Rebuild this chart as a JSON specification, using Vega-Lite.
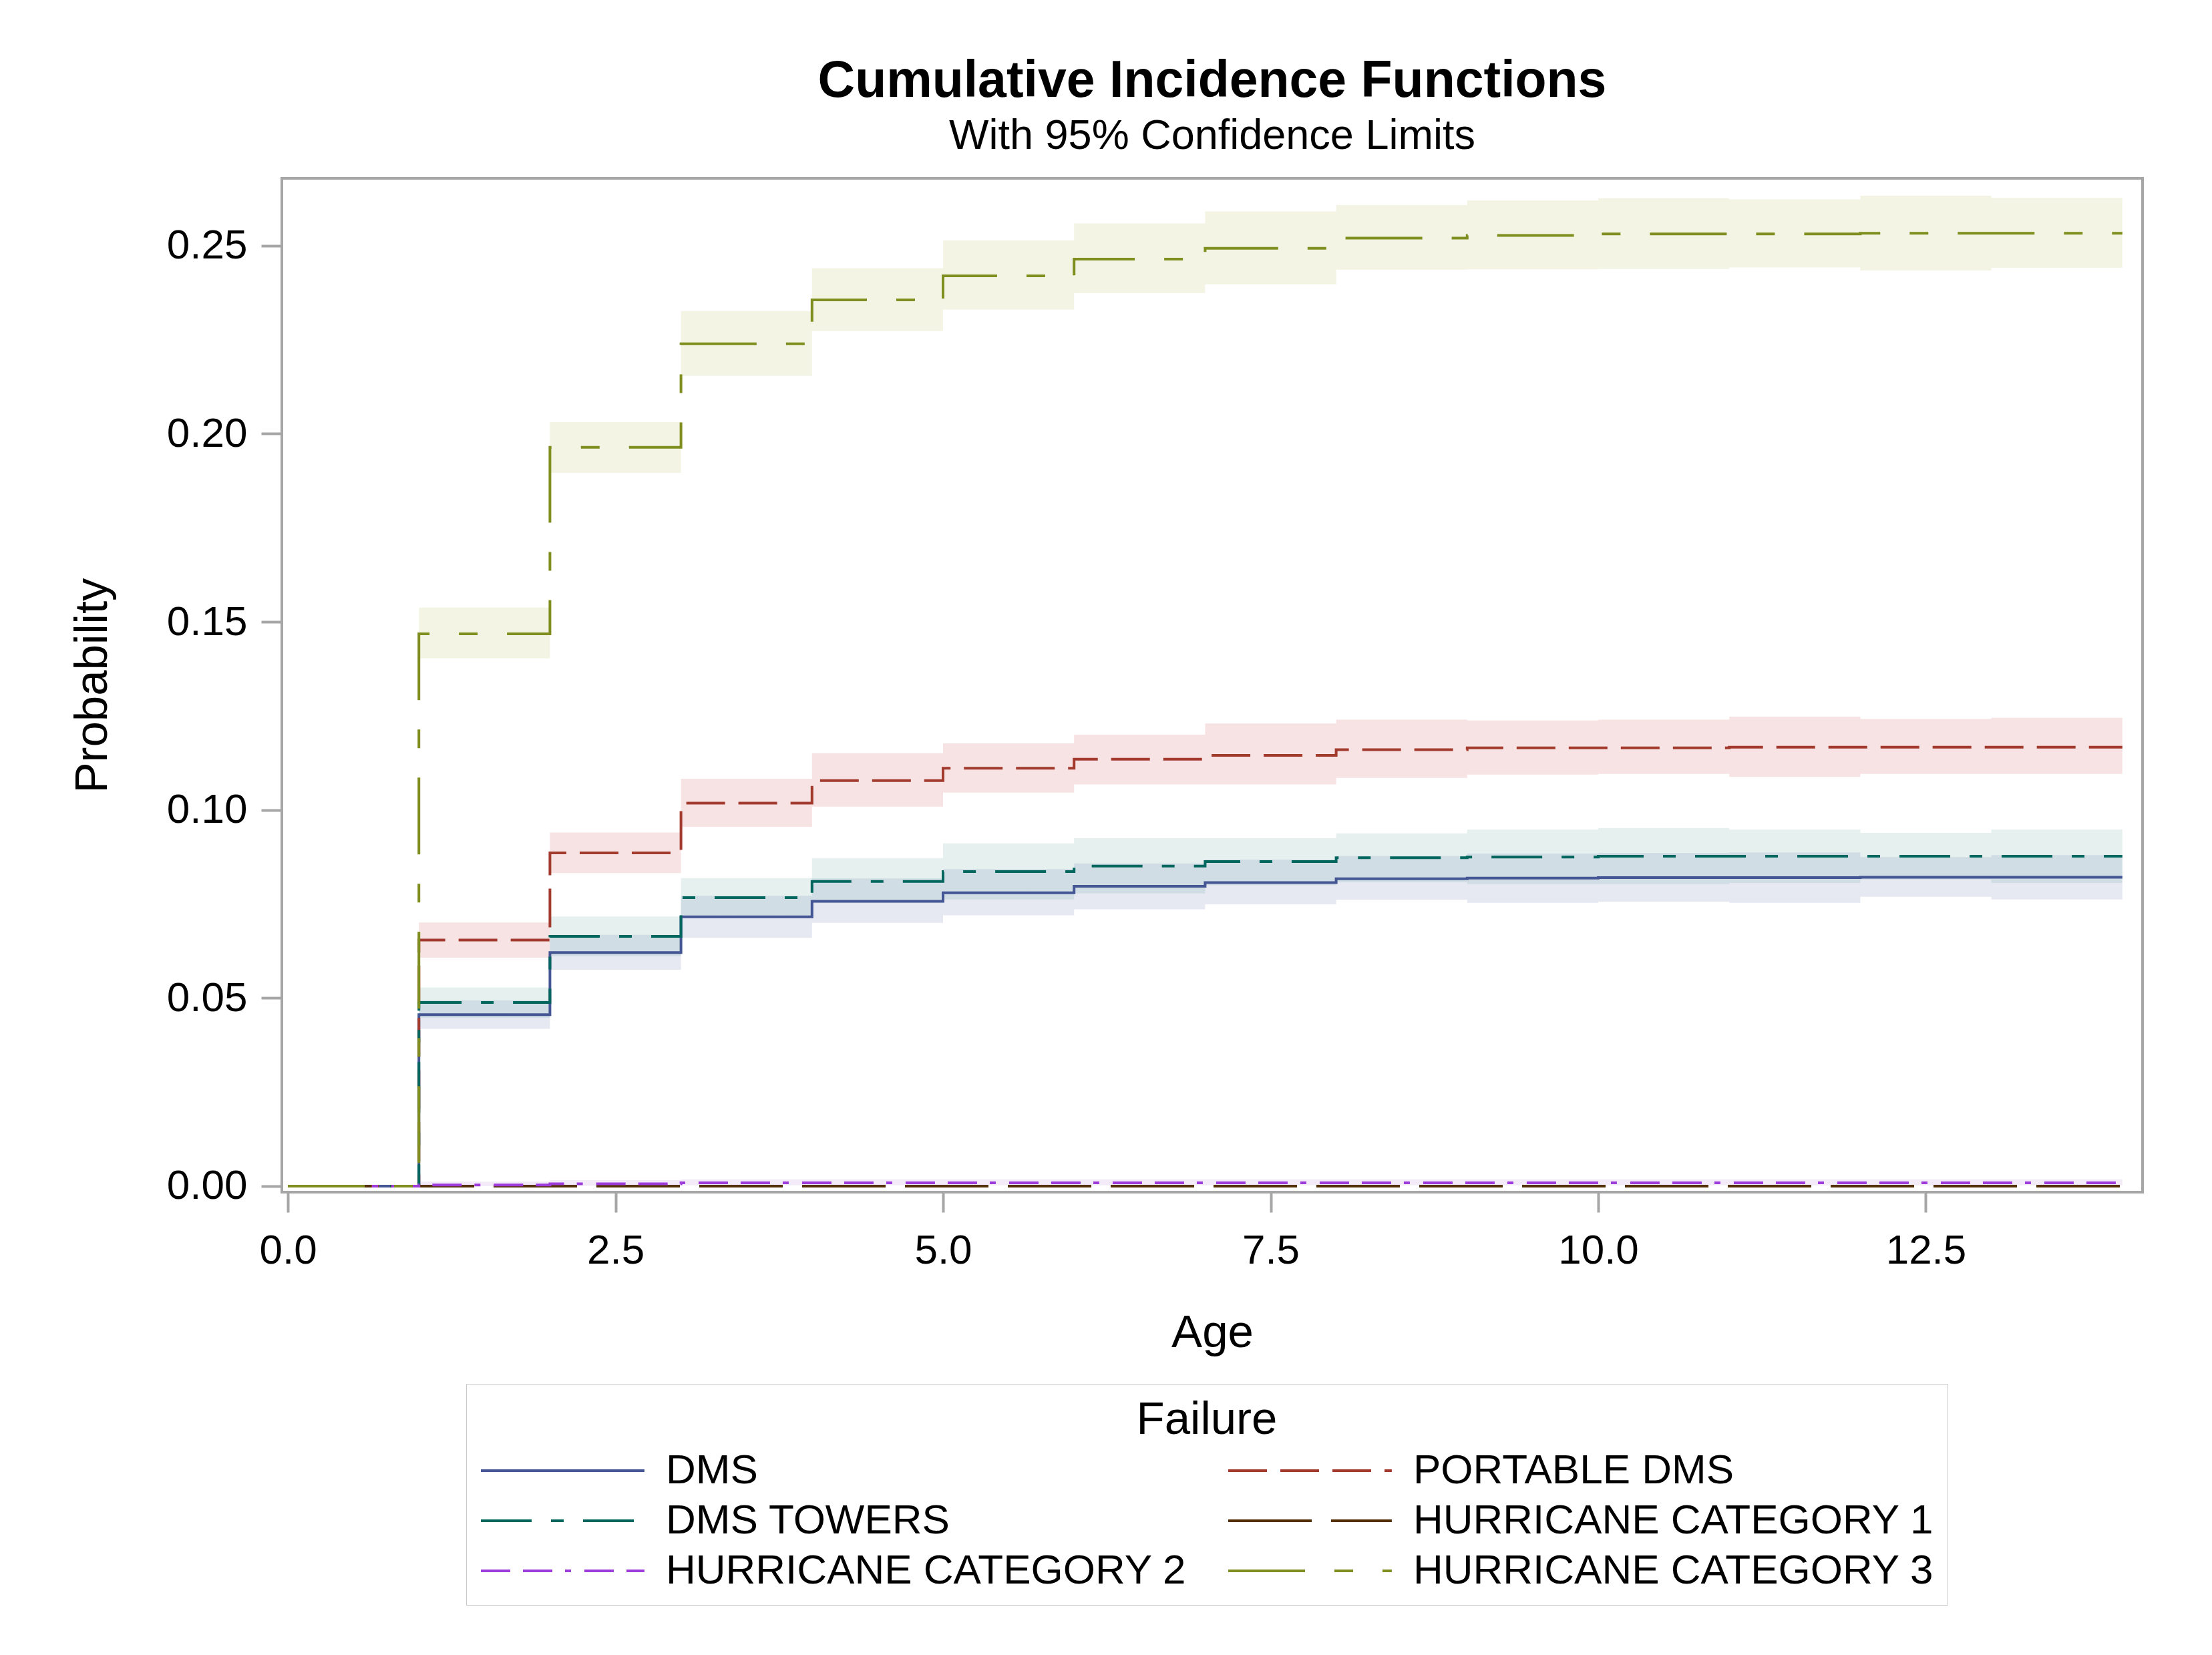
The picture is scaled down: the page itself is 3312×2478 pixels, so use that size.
{
  "$schema": "https://vega.github.io/schema/vega-lite/v6.json",
  "autosize": {"type": "none"},
  "padding": {"left": 422, "top": 267, "right": 104, "bottom": 693},
  "width": 2786,
  "height": 1518,
  "background": "white",
  "title": {
    "text": "Cumulative Incidence Functions",
    "subtitle": "With 95% Confidence Limits",
    "font": "Liberation Sans",
    "subtitleFont": "Liberation Sans",
    "fontSize": 77,
    "fontWeight": "bold",
    "subtitleFontSize": 63,
    "color": "black",
    "subtitleColor": "black",
    "anchor": "middle",
    "frame": "group",
    "offset": 30,
    "subtitlePadding": 12
  },
  "config": {
    "font": "Liberation Sans",
    "view": {"stroke": "#a6a6a6", "strokeWidth": 4},
    "axis": {
      "labelFont": "Liberation Sans",
      "labelFontSize": 62,
      "labelColor": "black",
      "titleFont": "Liberation Sans",
      "titleFontSize": 69,
      "titleFontWeight": "normal",
      "titleColor": "black",
      "tickColor": "#a6a6a6",
      "tickWidth": 4,
      "domain": false,
      "grid": false
    },
    "legend": {
      "symbolType": "M-1,0L6.9,0",
      "symbolSize": 3844,
      "symbolStrokeWidth": 4,
      "labelFont": "Liberation Sans",
      "labelFontSize": 62,
      "labelColor": "black",
      "labelLimit": 2000,
      "labelOffset": 213,
      "titleFont": "Liberation Sans",
      "titleFontSize": 69,
      "titleFontWeight": "normal",
      "titleColor": "black",
      "titleLimit": 2000,
      "titleAnchor": "middle",
      "titlePadding": 8,
      "columnPadding": 54,
      "rowPadding": 11,
      "padding": 20,
      "strokeColor": "#c8c8c8",
      "fillColor": "white"
    }
  },
  "data": {
    "values": [
      {"s": "DMS", "t": 0, "p": 0, "lo": 0, "hi": 0},
      {"s": "DMS", "t": 1, "p": 0.0456, "lo": 0.0418, "hi": 0.0494},
      {"s": "DMS", "t": 2, "p": 0.0621, "lo": 0.0575, "hi": 0.0668},
      {"s": "DMS", "t": 3, "p": 0.0716, "lo": 0.0660, "hi": 0.0772},
      {"s": "DMS", "t": 4, "p": 0.0757, "lo": 0.0700, "hi": 0.0818},
      {"s": "DMS", "t": 5, "p": 0.0780, "lo": 0.0720, "hi": 0.0843},
      {"s": "DMS", "t": 6, "p": 0.0797, "lo": 0.0736, "hi": 0.0858},
      {"s": "DMS", "t": 7, "p": 0.0807, "lo": 0.0749, "hi": 0.0868},
      {"s": "DMS", "t": 8, "p": 0.0817, "lo": 0.0761, "hi": 0.0878},
      {"s": "DMS", "t": 9, "p": 0.0819, "lo": 0.0753, "hi": 0.0884},
      {"s": "DMS", "t": 10, "p": 0.0820, "lo": 0.0756, "hi": 0.0886},
      {"s": "DMS", "t": 11, "p": 0.0820, "lo": 0.0753, "hi": 0.0887},
      {"s": "DMS", "t": 12, "p": 0.0821, "lo": 0.0769, "hi": 0.0875},
      {"s": "DMS", "t": 13, "p": 0.0821, "lo": 0.0762, "hi": 0.0880},
      {"s": "DMS", "t": 14, "p": 0.0821, "lo": 0.0762, "hi": 0.0880},
      {"s": "PORTABLE DMS", "t": 0, "p": 0, "lo": 0, "hi": 0},
      {"s": "PORTABLE DMS", "t": 1, "p": 0.0654, "lo": 0.0607, "hi": 0.0701},
      {"s": "PORTABLE DMS", "t": 2, "p": 0.0886, "lo": 0.0832, "hi": 0.0940},
      {"s": "PORTABLE DMS", "t": 3, "p": 0.1018, "lo": 0.0955, "hi": 0.1083},
      {"s": "PORTABLE DMS", "t": 4, "p": 0.1078, "lo": 0.1009, "hi": 0.1151},
      {"s": "PORTABLE DMS", "t": 5, "p": 0.1111, "lo": 0.1046, "hi": 0.1177},
      {"s": "PORTABLE DMS", "t": 6, "p": 0.1135, "lo": 0.1068, "hi": 0.1200},
      {"s": "PORTABLE DMS", "t": 7, "p": 0.1145, "lo": 0.1068, "hi": 0.1230},
      {"s": "PORTABLE DMS", "t": 8, "p": 0.1160, "lo": 0.1085, "hi": 0.1240},
      {"s": "PORTABLE DMS", "t": 9, "p": 0.1165, "lo": 0.1094, "hi": 0.1238},
      {"s": "PORTABLE DMS", "t": 10, "p": 0.1165, "lo": 0.1096, "hi": 0.1240},
      {"s": "PORTABLE DMS", "t": 11, "p": 0.1167, "lo": 0.1088, "hi": 0.1248},
      {"s": "PORTABLE DMS", "t": 12, "p": 0.1167, "lo": 0.1096, "hi": 0.1242},
      {"s": "PORTABLE DMS", "t": 13, "p": 0.1167, "lo": 0.1096, "hi": 0.1245},
      {"s": "PORTABLE DMS", "t": 14, "p": 0.1167, "lo": 0.1096, "hi": 0.1245},
      {"s": "DMS TOWERS", "t": 0, "p": 0, "lo": 0, "hi": 0},
      {"s": "DMS TOWERS", "t": 1, "p": 0.0488, "lo": 0.0448, "hi": 0.0528},
      {"s": "DMS TOWERS", "t": 2, "p": 0.0664, "lo": 0.0611, "hi": 0.0717},
      {"s": "DMS TOWERS", "t": 3, "p": 0.0767, "lo": 0.0715, "hi": 0.0819},
      {"s": "DMS TOWERS", "t": 4, "p": 0.0810, "lo": 0.0752, "hi": 0.0872},
      {"s": "DMS TOWERS", "t": 5, "p": 0.0836, "lo": 0.0762, "hi": 0.0911},
      {"s": "DMS TOWERS", "t": 6, "p": 0.0851, "lo": 0.0778, "hi": 0.0925},
      {"s": "DMS TOWERS", "t": 7, "p": 0.0863, "lo": 0.0800, "hi": 0.0925},
      {"s": "DMS TOWERS", "t": 8, "p": 0.0873, "lo": 0.0808, "hi": 0.0938},
      {"s": "DMS TOWERS", "t": 9, "p": 0.0875, "lo": 0.0803, "hi": 0.0948},
      {"s": "DMS TOWERS", "t": 10, "p": 0.0877, "lo": 0.0803, "hi": 0.0952},
      {"s": "DMS TOWERS", "t": 11, "p": 0.0877, "lo": 0.0806, "hi": 0.0948},
      {"s": "DMS TOWERS", "t": 12, "p": 0.0877, "lo": 0.0815, "hi": 0.0939},
      {"s": "DMS TOWERS", "t": 13, "p": 0.0877, "lo": 0.0806, "hi": 0.0948},
      {"s": "DMS TOWERS", "t": 14, "p": 0.0877, "lo": 0.0806, "hi": 0.0948},
      {"s": "HURRICANE CATEGORY 1", "t": 0, "p": 0, "lo": 0, "hi": 0},
      {"s": "HURRICANE CATEGORY 1", "t": 1, "p": 0, "lo": 0, "hi": 0},
      {"s": "HURRICANE CATEGORY 1", "t": 2, "p": 0, "lo": 0, "hi": 0},
      {"s": "HURRICANE CATEGORY 1", "t": 3, "p": 0, "lo": 0, "hi": 0},
      {"s": "HURRICANE CATEGORY 1", "t": 4, "p": 0, "lo": 0, "hi": 0},
      {"s": "HURRICANE CATEGORY 1", "t": 5, "p": 0, "lo": 0, "hi": 0},
      {"s": "HURRICANE CATEGORY 1", "t": 6, "p": 0, "lo": 0, "hi": 0},
      {"s": "HURRICANE CATEGORY 1", "t": 7, "p": 0, "lo": 0, "hi": 0},
      {"s": "HURRICANE CATEGORY 1", "t": 8, "p": 0, "lo": 0, "hi": 0},
      {"s": "HURRICANE CATEGORY 1", "t": 9, "p": 0, "lo": 0, "hi": 0},
      {"s": "HURRICANE CATEGORY 1", "t": 10, "p": 0, "lo": 0, "hi": 0},
      {"s": "HURRICANE CATEGORY 1", "t": 11, "p": 0, "lo": 0, "hi": 0},
      {"s": "HURRICANE CATEGORY 1", "t": 12, "p": 0, "lo": 0, "hi": 0},
      {"s": "HURRICANE CATEGORY 1", "t": 13, "p": 0, "lo": 0, "hi": 0},
      {"s": "HURRICANE CATEGORY 1", "t": 14, "p": 0, "lo": 0, "hi": 0},
      {"s": "HURRICANE CATEGORY 2", "t": 0, "p": 0, "lo": 0, "hi": 0},
      {"s": "HURRICANE CATEGORY 2", "t": 1, "p": 0.0003, "lo": 0, "hi": 0.0012},
      {"s": "HURRICANE CATEGORY 2", "t": 2, "p": 0.0006, "lo": 0.0001, "hi": 0.0016},
      {"s": "HURRICANE CATEGORY 2", "t": 3, "p": 0.0009, "lo": 0.0002, "hi": 0.0018},
      {"s": "HURRICANE CATEGORY 2", "t": 4, "p": 0.0009, "lo": 0.0002, "hi": 0.0018},
      {"s": "HURRICANE CATEGORY 2", "t": 5, "p": 0.0009, "lo": 0.0002, "hi": 0.0018},
      {"s": "HURRICANE CATEGORY 2", "t": 6, "p": 0.0009, "lo": 0.0002, "hi": 0.0018},
      {"s": "HURRICANE CATEGORY 2", "t": 7, "p": 0.0009, "lo": 0.0002, "hi": 0.0018},
      {"s": "HURRICANE CATEGORY 2", "t": 8, "p": 0.0009, "lo": 0.0002, "hi": 0.0018},
      {"s": "HURRICANE CATEGORY 2", "t": 9, "p": 0.0009, "lo": 0.0002, "hi": 0.0018},
      {"s": "HURRICANE CATEGORY 2", "t": 10, "p": 0.0009, "lo": 0.0002, "hi": 0.0018},
      {"s": "HURRICANE CATEGORY 2", "t": 11, "p": 0.0009, "lo": 0.0002, "hi": 0.0018},
      {"s": "HURRICANE CATEGORY 2", "t": 12, "p": 0.0009, "lo": 0.0002, "hi": 0.0018},
      {"s": "HURRICANE CATEGORY 2", "t": 13, "p": 0.0009, "lo": 0.0002, "hi": 0.0018},
      {"s": "HURRICANE CATEGORY 2", "t": 14, "p": 0.0009, "lo": 0.0002, "hi": 0.0018},
      {"s": "HURRICANE CATEGORY 3", "t": 0, "p": 0, "lo": 0, "hi": 0},
      {"s": "HURRICANE CATEGORY 3", "t": 1, "p": 0.1468, "lo": 0.1403, "hi": 0.1538},
      {"s": "HURRICANE CATEGORY 3", "t": 2, "p": 0.1964, "lo": 0.1896, "hi": 0.2031},
      {"s": "HURRICANE CATEGORY 3", "t": 3, "p": 0.2239, "lo": 0.2154, "hi": 0.2326},
      {"s": "HURRICANE CATEGORY 3", "t": 4, "p": 0.2356, "lo": 0.2273, "hi": 0.2440},
      {"s": "HURRICANE CATEGORY 3", "t": 5, "p": 0.2420, "lo": 0.2330, "hi": 0.2514},
      {"s": "HURRICANE CATEGORY 3", "t": 6, "p": 0.2464, "lo": 0.2374, "hi": 0.2559},
      {"s": "HURRICANE CATEGORY 3", "t": 7, "p": 0.2493, "lo": 0.2397, "hi": 0.2591},
      {"s": "HURRICANE CATEGORY 3", "t": 8, "p": 0.2520, "lo": 0.2436, "hi": 0.2608},
      {"s": "HURRICANE CATEGORY 3", "t": 9, "p": 0.2527, "lo": 0.2437, "hi": 0.2620},
      {"s": "HURRICANE CATEGORY 3", "t": 10, "p": 0.2531, "lo": 0.2438, "hi": 0.2626},
      {"s": "HURRICANE CATEGORY 3", "t": 11, "p": 0.2531, "lo": 0.2442, "hi": 0.2623},
      {"s": "HURRICANE CATEGORY 3", "t": 12, "p": 0.2533, "lo": 0.2434, "hi": 0.2633},
      {"s": "HURRICANE CATEGORY 3", "t": 13, "p": 0.2533, "lo": 0.2441, "hi": 0.2627},
      {"s": "HURRICANE CATEGORY 3", "t": 14, "p": 0.2533, "lo": 0.2441, "hi": 0.2627}
    ]
  },
  "encoding": {
    "x": {
      "field": "t",
      "type": "quantitative",
      "scale": {"domain": [-0.046, 14.154], "nice": false, "zero": false},
      "axis": {
        "title": "Age",
        "values": [0, 2.5, 5, 7.5, 10, 12.5],
        "format": ".1f",
        "tickSize": 30,
        "labelPadding": 27,
        "titleBaseline": "alphabetic",
        "titleY": 231
      }
    }
  },
  "layer": [
    {
      "mark": {"type": "area", "interpolate": "step-after", "fillOpacity": 0.17},
      "encoding": {
        "y": {
          "field": "lo",
          "type": "quantitative",
          "scale": {"domain": [-0.0016, 0.2679], "nice": false, "zero": false},
          "axis": {
            "title": "Probability",
            "values": [0, 0.05, 0.1, 0.15, 0.2, 0.25],
            "format": ".2f",
            "tickSize": 31,
            "labelPadding": 21,
            "titleBaseline": "alphabetic",
            "titleX": -263
          }
        },
        "y2": {"field": "hi"},
        "fill": {
          "field": "s",
          "type": "nominal",
          "scale": {
            "domain": ["DMS", "DMS TOWERS", "HURRICANE CATEGORY 1", "HURRICANE CATEGORY 2", "HURRICANE CATEGORY 3", "PORTABLE DMS"],
            "range": ["#6F7EB3", "#66A5A0", "#A9865B", "#B689CD", "#BABC5C", "#D05B5B"]
          },
          "legend": null
        }
      }
    },
    {
      "mark": {"type": "line", "interpolate": "step-after", "strokeWidth": 4},
      "encoding": {
        "y": {
          "field": "p",
          "type": "quantitative",
          "scale": {"domain": [-0.0016, 0.2679], "nice": false, "zero": false},
          "axis": {
            "title": "Probability",
            "values": [0, 0.05, 0.1, 0.15, 0.2, 0.25],
            "format": ".2f",
            "tickSize": 31,
            "labelPadding": 21,
            "titleBaseline": "alphabetic",
            "titleX": -263
          }
        },
        "color": {
          "field": "s",
          "type": "nominal",
          "scale": {
            "domain": ["DMS", "PORTABLE DMS", "DMS TOWERS", "HURRICANE CATEGORY 1", "HURRICANE CATEGORY 2", "HURRICANE CATEGORY 3"],
            "range": ["#445694", "#A23A2E", "#01665E", "#543005", "#9D3CDB", "#7F8E1F"]
          },
          "legend": {
            "title": "Failure",
            "orient": "none",
            "legendX": 276,
            "legendY": 1805,
            "columns": 2,
            "direction": "horizontal",
            "symbolType": "M-1,0L6.9,0",
            "symbolSize": 3844,
            "labelOffset": 213
          }
        },
        "strokeDash": {
          "field": "s",
          "type": "nominal",
          "scale": {
            "domain": ["DMS", "PORTABLE DMS", "DMS TOWERS", "HURRICANE CATEGORY 1", "HURRICANE CATEGORY 2", "HURRICANE CATEGORY 3"],
            "range": [[1, 0], [58, 20], [76, 29, 19, 29], [125, 29], [44, 19, 44, 19, 9, 20], [115, 44, 28, 44]]
          },
          "legend": {
            "title": "Failure",
            "orient": "none",
            "legendX": 276,
            "legendY": 1805,
            "columns": 2,
            "direction": "horizontal",
            "symbolType": "M-1,0L6.9,0",
            "symbolSize": 3844,
            "labelOffset": 213
          }
        }
      }
    }
  ]
}
